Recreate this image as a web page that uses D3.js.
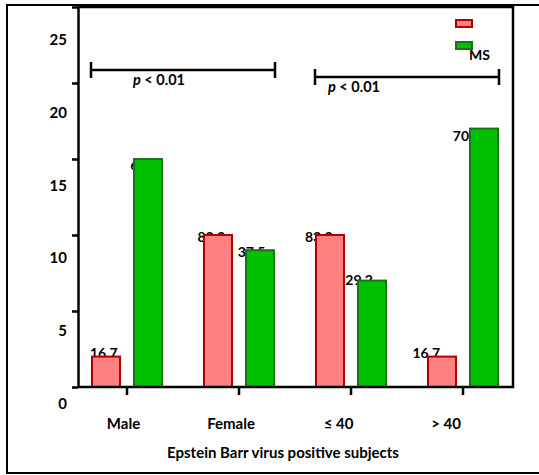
<!DOCTYPE html>
<meta charset="utf-8">
<script src="https://d3js.org/d3.v7.min.js"></script>
<style>
  body { margin: 0; background: #fff; }
  text { font-family: Lato, "Open Sans", sans-serif; font-weight: bold; fill: #000; }
</style>
<svg width="539" height="475"></svg>
<script>

    // data (counts of EBV positive subjects)
    const categories = ["Male", "Female", "\u2264 40", "> 40"];
    const seriesKeys = ["control", "ms"];
    const legendLabels = ["", "MS"];
    const controlValues = [2, 10, 10, 2];
    const msValues = [15, 9, 7, 17];
    const controlPct = ["16.7", "83.3", "83.3", "16.7"];
    const msPct = ["62.5", "37.5", "29.2", "70.8"];
    const yTicks = [0, 5, 10, 15, 20, 25];
    const brackets = [
        {from: "Male", to: "Female", level: 20.85, label: "< 0.01"},
        {from: "\u2264 40", to: "> 40", level: 20.4, label: "< 0.01"}
    ];

    const width = 539, height = 475
    const plot = {left: 78, right: 513, top: 7, bottom: 387}

    const fills = {control: "#ff8080", ms: "#00c000"}
    const strokes = {control: "#b00000", ms: "#1e6e1e"}

    const svg = d3.select('svg')

    const rows = categories.map((c, i) => ({
        cat: c,
        values: [
            {key: "control", value: controlValues[i], pct: controlPct[i]},
            {key: "ms", value: msValues[i], pct: msPct[i]}
        ]
    }))

    const x = d3.scaleBand()
        .domain(categories)
        .range([71, 519])
        .padding(0)

    const x1 = d3.scaleBand()
        .domain(seriesKeys)
        .range([21, 91])
        .paddingInner(1 / 3)
        .paddingOuter(0)

    const y = d3.scaleLinear()
        .domain([0, 25])
        .range([plot.bottom, plot.top])

    // the text layer of the original figure sits slightly shrunk against the graphics
    const textX = d3.scaleLinear().domain([0, width]).range([1.6, 1.6 + 0.96 * width])
    const yLabel = d3.scaleLinear().domain([0, 25]).range([403, 39])
    const yValLabel = d3.scaleLinear().domain([0, 25]).range([381, 20])

    // outer frame
    svg.append('rect')
        .attr('x', 7).attr('y', 5)
        .attr('width', 545).attr('height', 468)
        .attr('fill', 'none')
        .attr('stroke', '#000')
        .attr('stroke-width', 2)

    const flat = rows.flatMap(d => d.values.map(v => Object.assign({cat: d.cat}, v)))

    // value labels first, bars drawn over them
    svg.selectAll('text.val')
        .data(flat)
        .enter().append('text')
        .attr('class', 'val')
        .attr('x', d => textX(x(d.cat) + x1(d.key)))
        .attr('y', d => yValLabel(d.value))
        .attr('dominant-baseline', 'central')
        .style('font-size', '14px')
        .text(d => d.pct)

    svg.selectAll('rect.bar')
        .data(flat)
        .enter().append('rect')
        .attr('class', 'bar')
        .attr('x', d => x(d.cat) + x1(d.key))
        .attr('y', d => y(d.value))
        .attr('width', x1.bandwidth())
        .attr('height', d => y(0) - y(d.value))
        .attr('fill', d => fills[d.key])
        .attr('stroke', d => strokes[d.key])
        .attr('stroke-width', 2)

    // axes
    const yAxis = d3.axisLeft(y).tickValues(yTicks).tickSize(6).tickSizeOuter(0).tickFormat('')
    const gy = svg.append('g')
        .attr('transform', 'translate(' + plot.left + ',0)')
        .call(yAxis)
    gy.selectAll('path, line').attr('stroke', '#000').attr('stroke-width', 2.5)

    const xAxis = d3.axisBottom(x).tickSize(8).tickSizeOuter(0).tickFormat('')
    const gx = svg.append('g')
        .attr('transform', 'translate(0,' + plot.bottom + ')')
        .call(xAxis)
    gx.select('.domain').remove()
    gx.selectAll('line').attr('stroke', '#000').attr('stroke-width', 2.5)

    // box: baseline, top and right edges
    svg.append('path')
        .attr('d', 'M' + plot.left + ',' + plot.bottom + 'H' + plot.right + 'V' + plot.top + 'H' + plot.left)
        .attr('fill', 'none')
        .attr('stroke', '#000')
        .attr('stroke-width', 2.5)

    // y tick labels
    svg.selectAll('text.ytick')
        .data(yTicks)
        .enter().append('text')
        .attr('class', 'ytick')
        .attr('x', 67)
        .attr('y', d => yLabel(d))
        .attr('text-anchor', 'end')
        .attr('dominant-baseline', 'central')
        .style('font-size', '15px')
        .text(d => d)

    // category labels
    svg.selectAll('text.cat')
        .data(categories)
        .enter().append('text')
        .attr('class', 'cat')
        .attr('x', d => textX(x(d) + x.bandwidth() / 2))
        .attr('y', 423)
        .attr('text-anchor', 'middle')
        .attr('dominant-baseline', 'central')
        .style('font-size', '15px')
        .text(d => d)

    svg.append('text')
        .attr('x', 283)
        .attr('y', 452)
        .attr('text-anchor', 'middle')
        .attr('dominant-baseline', 'central')
        .style('font-size', '15px')
        .text('Epstein Barr virus positive subjects')

    // significance brackets
    const pShift = [42, 13]
    brackets.forEach((b, i) => {
        const x0 = x(b.from) + x1(seriesKeys[0]) - 1
        const x2 = x(b.to) + x1(seriesKeys[1]) + x1.bandwidth() + 1
        const yy = y(b.level)
        const g = svg.append('g')
        g.append('path')
            .attr('d', 'M' + x0 + ',' + (yy - 8) + 'V' + (yy + 8) +
                'M' + x0 + ',' + yy + 'H' + x2 +
                'M' + x2 + ',' + (yy - 8) + 'V' + (yy + 8))
            .attr('fill', 'none')
            .attr('stroke', '#000')
            .attr('stroke-width', 2.5)
        const t = g.append('text')
            .attr('x', x0 + pShift[i])
            .attr('y', yy + 9)
            .attr('dominant-baseline', 'central')
            .style('font-size', '14.5px')
        t.append('tspan').style('font-style', 'italic').text('p')
        t.append('tspan').text(' ' + b.label)
    })

    // legend
    const legend = svg.selectAll('g.legend')
        .data(seriesKeys)
        .enter().append('g')
        .attr('class', 'legend')
        .attr('transform', (d, i) => 'translate(456,' + (20 + i * 22) + ')')

    legend.append('rect')
        .attr('width', 16)
        .attr('height', 7)
        .attr('fill', d => fills[d])
        .attr('stroke', d => strokes[d])
        .attr('stroke-width', 2)

    legend.append('text')
        .attr('x', 13)
        .attr('y', 12)
        .attr('dominant-baseline', 'central')
        .style('font-size', '14px')
        .text((d, i) => legendLabels[i])

</script>
